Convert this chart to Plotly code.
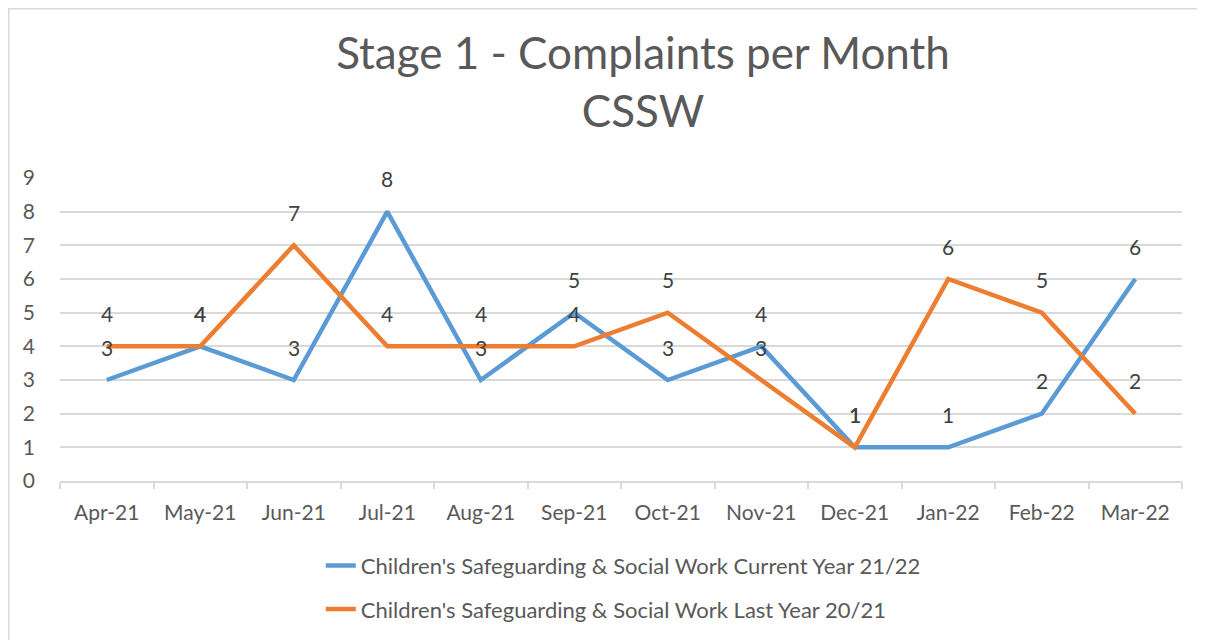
import plotly.graph_objects as go

months = ["Apr-21", "May-21", "Jun-21", "Jul-21", "Aug-21", "Sep-21",
          "Oct-21", "Nov-21", "Dec-21", "Jan-22", "Feb-22", "Mar-22"]
current_year = [3, 4, 3, 8, 3, 5, 3, 4, 1, 1, 2, 6]
last_year = [4, 4, 7, 4, 4, 4, 5, 3, 1, 6, 5, 2]
series_names = ["Children's Safeguarding & Social Work Current Year 21/22",
                "Children's Safeguarding & Social Work Last Year 20/21"]
series_colors = ["#5B9BD5", "#ED7D31"]
y_ticks = list(range(0, 10))

FONT = "Lato, Carlito, Calibri, sans-serif"

fig = go.Figure()
for name, vals, col, grp in zip(series_names, [current_year, last_year], series_colors, ["a", "b"]):
    fig.add_trace(go.Scatter(x=months, y=vals, mode="lines", name=name,
                             line=dict(color=col, width=4.5),
                             legendgroup=grp, hoverinfo="x+y"))

annotations = []
for vals in [current_year, last_year]:
    for m, v in zip(months, vals):
        annotations.append(dict(x=m, y=v, xref="x", yref="y", text=str(v),
                                showarrow=False, yshift=33,
                                font=dict(family=FONT, size=21, color="#404040")))

fig.update_layout(
    width=1205, height=640,
    paper_bgcolor="white", plot_bgcolor="white",
    margin=dict(l=52, r=31, t=170, b=167),
    title=dict(text="Stage 1 - Complaints per Month<br>CSSW",
               x=0.527, xanchor="center", y=0.904, yanchor="middle",
               font=dict(family=FONT, size=44, color="#595959")),
    font=dict(family=FONT, size=21, color="#595959"),
    xaxis=dict(type="category", range=[-0.5, 11.5], showgrid=False, showline=True,
               linecolor="#d9d9d9", linewidth=1.5, ticks="outside",
               tickson="boundaries", ticklen=6, tickcolor="#d9d9d9", tickwidth=1.5,
               tickfont=dict(family=FONT, size=21, color="#595959"),
               ticklabelstandoff=12, zeroline=False),
    yaxis=dict(range=[0, 9], tickvals=y_ticks, showgrid=True, gridcolor="#d9d9d9",
               gridwidth=1.5, showline=False, zeroline=False, ticks="",
               tickfont=dict(family=FONT, size=21, color="#595959"),
               ticklabelstandoff=24),
    legend=dict(orientation="v", x=0.502, xanchor="center", y=-0.21, yanchor="top",
                traceorder="grouped", tracegroupgap=12,
                font=dict(family=FONT, size=22, color="#595959"),
                bgcolor="rgba(0,0,0,0)"),
    annotations=annotations,
    shapes=[dict(type="rect", xref="paper", yref="paper",
                 x0=-0.0457, x1=1.03, y0=-0.7, y1=1.5586,
                 line=dict(color="#d9d9d9", width=1.5), fillcolor="rgba(0,0,0,0)",
                 layer="below")],
    showlegend=True,
)

fig.write_html("out.html")
